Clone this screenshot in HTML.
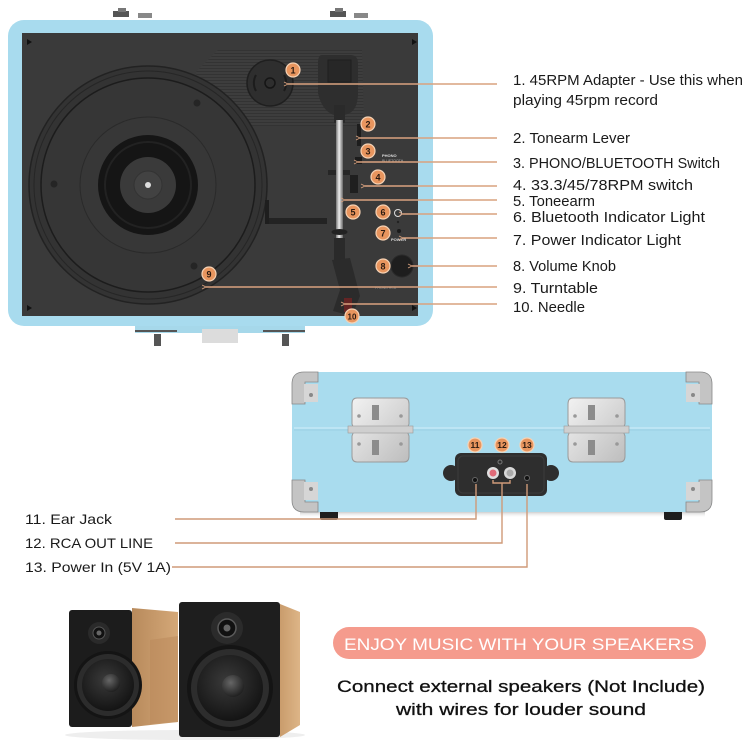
<!DOCTYPE html>
<html><head><meta charset="utf-8"><style>
html,body{margin:0;padding:0;background:#fff;}
svg{display:block;}
text{font-family:"Liberation Sans",sans-serif;}
</style></head><body>
<svg width="750" height="750" viewBox="0 0 750 750" xmlns="http://www.w3.org/2000/svg">
<defs>
  <marker id="ar" viewBox="0 0 10 10" refX="1" refY="5" markerWidth="5" markerHeight="5" orient="auto-start-reverse" markerUnits="userSpaceOnUse">
    <path d="M9,1 L1,5 L9,9" fill="none" stroke="#d9a27f" stroke-width="1.6"/>
  </marker>
  <pattern id="stripes" width="4" height="3" patternUnits="userSpaceOnUse">
    <rect width="4" height="3" fill="#3d3d3d"/>
    <rect y="2" width="4" height="1" fill="#333"/>
  </pattern>
  <linearGradient id="rod" x1="0" x2="1" y1="0" y2="0">
    <stop offset="0" stop-color="#777"/><stop offset="0.45" stop-color="#eee"/><stop offset="1" stop-color="#666"/>
  </linearGradient>
  <linearGradient id="wood" x1="0" x2="1" y1="0" y2="0">
    <stop offset="0" stop-color="#b88a5c"/><stop offset="1" stop-color="#d4a878"/>
  </linearGradient>
  <linearGradient id="wood2" x1="0" x2="1" y1="0" y2="0">
    <stop offset="0" stop-color="#c99c6c"/><stop offset="1" stop-color="#ddb587"/>
  </linearGradient>
  <radialGradient id="cone" cx="0.45" cy="0.4" r="0.6">
    <stop offset="0" stop-color="#3a3a3a"/><stop offset="1" stop-color="#141414"/>
  </radialGradient>
  <radialGradient id="cap" cx="0.4" cy="0.35" r="0.7">
    <stop offset="0" stop-color="#666"/><stop offset="1" stop-color="#1c1c1c"/>
  </radialGradient>
  <linearGradient id="silver" x1="0" x2="1" y1="0" y2="1">
    <stop offset="0" stop-color="#f2f2f2"/><stop offset="1" stop-color="#bdbdbd"/>
  </linearGradient>
  <linearGradient id="shadow" x1="0" x2="0" y1="0" y2="1">
    <stop offset="0" stop-color="#777"/><stop offset="1" stop-color="#fff" stop-opacity="0"/>
  </linearGradient>
</defs>
<rect width="750" height="750" fill="#fff"/>

<!-- ============ TOP VIEW ============ -->
<rect x="113" y="11" width="16" height="6" fill="#555"/>
<rect x="118" y="8" width="8" height="4" fill="#777"/>
<rect x="138" y="13" width="14" height="5" fill="#888"/>
<rect x="330" y="11" width="16" height="6" fill="#555"/>
<rect x="335" y="8" width="8" height="4" fill="#777"/>
<rect x="354" y="13" width="14" height="5" fill="#888"/>
<rect x="135" y="324" width="170" height="9" fill="#a6d8ea"/>
<rect x="135" y="330" width="42" height="2" fill="#555"/>
<rect x="263" y="330" width="42" height="2" fill="#555"/>
<rect x="202" y="329" width="36" height="14" fill="#dcdcdc"/>
<rect x="154" y="334" width="7" height="12" fill="#555"/>
<rect x="282" y="334" width="7" height="12" fill="#555"/>
<rect x="8" y="20" width="425" height="306" rx="16" fill="#a8dbee"/>
<rect x="22" y="33" width="396" height="283" fill="#3a3a3a"/>
<path d="M27,39 l5,3 l-5,3z M412,39 l5,3 l-5,3z M27,305 l5,3 l-5,3z M412,305 l5,3 l-5,3z" fill="#111"/>

<polygon points="196,72 218,50 362,50 364,126 206,126" fill="url(#stripes)"/>
<circle cx="148" cy="185" r="119" fill="#333" stroke="#222" stroke-width="1.5"/>
<circle cx="148" cy="185" r="114" fill="none" stroke="#262626" stroke-width="1"/>
<circle cx="148" cy="185" r="107" fill="#363636" stroke="#1c1c1c" stroke-width="1.5"/>
<circle cx="148" cy="185" r="68" fill="#373737" stroke="#2a2a2a" stroke-width="1"/>
<circle cx="197" cy="103" r="3.5" fill="#252525"/>
<circle cx="54" cy="184" r="3.5" fill="#252525"/>
<circle cx="194" cy="266" r="3.5" fill="#252525"/>
<circle cx="148" cy="185" r="50" fill="#151515"/>
<circle cx="148" cy="185" r="43" fill="none" stroke="#222" stroke-width="2"/>
<circle cx="148" cy="185" r="28" fill="#3a3a3a"/>
<circle cx="148" cy="185" r="14" fill="#424242" stroke="#333"/>
<circle cx="148" cy="185" r="3" fill="#ddd"/>
<rect x="265" y="218" width="62" height="6" fill="#232323"/>
<rect x="328" y="170" width="22" height="5" fill="#262626"/>
<rect x="265" y="200" width="4" height="24" fill="#1e1e1e"/>
<circle cx="270" cy="83" r="23" fill="#2e2e2e" stroke="#1f1f1f" stroke-width="1.5"/>
<path d="M256,75 A16,16 0 0 0 256,91 M284,75 A16,16 0 0 1 284,91" fill="none" stroke="#1c1c1c" stroke-width="2"/>
<circle cx="270" cy="83" r="5" fill="none" stroke="#151515" stroke-width="1.5"/>
<path d="M322,55 h28 q8,0 8,8 v30 q0,20 -14,22 h-10 q-12,-4 -16,-22 v-30 q0,-8 4,-8z" fill="#2e2e2e"/>
<rect x="328" y="60" width="23" height="22" fill="#272727" stroke="#1f1f1f"/>
<rect x="334" y="105" width="11" height="18" fill="#2a2a2a"/>
<rect x="336" y="120" width="7" height="120" fill="url(#rod)"/>
<ellipse cx="339.5" cy="232" rx="8" ry="3" fill="#222"/>
<rect x="334" y="238" width="11" height="24" fill="#2a2a2a"/>
<polygon points="332,260 350,258 360,296 352,316 333,311 340,290" fill="#2b2b2b"/>
<rect x="344" y="298" width="8" height="14" fill="#8a1f1f" opacity="0.6"/>
<rect x="357" y="124" width="4" height="22" fill="#1d1d1d"/>
<rect x="355" y="157" width="7" height="7" fill="#1c1c1c"/>
<text x="382" y="157" font-size="4" fill="#ddd" font-weight="bold">PHONO</text>
<text x="382" y="162" font-size="3.5" fill="#aaa">BLUETOOTH</text>
<rect x="350" y="175" width="8" height="18" fill="#1f1f1f"/>
<circle cx="398" cy="213" r="3.5" fill="none" stroke="#ddd" stroke-width="1"/>
<circle cx="398" cy="222" r="1.2" fill="#222"/>
<circle cx="399" cy="231" r="2" fill="#1a1a1a"/>
<text x="391" y="241" font-size="4" fill="#ddd" font-weight="bold">POWER</text>
<circle cx="402" cy="266" r="11" fill="#1e1e1e" stroke="#2a2a2a"/>
<text x="375" y="289" font-size="3.5" fill="#888">PHONO      RCA</text>

<g stroke="#d9a27f" stroke-width="1.5" fill="none" marker-start="url(#ar)">
  <line x1="288" y1="84" x2="497" y2="84"/>
  <line x1="360" y1="138" x2="497" y2="138"/>
  <line x1="358" y1="162" x2="497" y2="162"/>
  <line x1="365" y1="186" x2="497" y2="186"/>
  <line x1="345" y1="200" x2="497" y2="200"/>
  <line x1="403" y1="214" x2="497" y2="214"/>
  <line x1="403" y1="238" x2="497" y2="238"/>
  <line x1="412" y1="266" x2="497" y2="266"/>
  <line x1="206" y1="287" x2="497" y2="287"/>
  <line x1="345" y1="304" x2="497" y2="304"/>
</g>
<g font-size="9" font-weight="bold" text-anchor="middle" fill="#2b1a10">
  <g><circle cx="293" cy="70" r="7" fill="#e8955e" stroke="#f6d2b4" stroke-width="1.2"/><text x="293" y="73.3">1</text></g>
  <g><circle cx="368" cy="124" r="7" fill="#e8955e" stroke="#f6d2b4" stroke-width="1.2"/><text x="368" y="127.3">2</text></g>
  <g><circle cx="368" cy="151" r="7" fill="#e8955e" stroke="#f6d2b4" stroke-width="1.2"/><text x="368" y="154.3">3</text></g>
  <g><circle cx="378" cy="177" r="7" fill="#e8955e" stroke="#f6d2b4" stroke-width="1.2"/><text x="378" y="180.3">4</text></g>
  <g><circle cx="353" cy="212" r="7" fill="#e8955e" stroke="#f6d2b4" stroke-width="1.2"/><text x="353" y="215.3">5</text></g>
  <g><circle cx="383" cy="212" r="7" fill="#e8955e" stroke="#f6d2b4" stroke-width="1.2"/><text x="383" y="215.3">6</text></g>
  <g><circle cx="383" cy="233" r="7" fill="#e8955e" stroke="#f6d2b4" stroke-width="1.2"/><text x="383" y="236.3">7</text></g>
  <g><circle cx="383" cy="266" r="7" fill="#e8955e" stroke="#f6d2b4" stroke-width="1.2"/><text x="383" y="269.3">8</text></g>
  <g><circle cx="209" cy="274" r="7" fill="#e8955e" stroke="#f6d2b4" stroke-width="1.2"/><text x="209" y="277.3">9</text></g>
  <g><circle cx="352" cy="316" r="7" fill="#e8955e" stroke="#f6d2b4" stroke-width="1.2"/><text x="352" y="319.3" font-size="8">10</text></g>
</g>
<g font-size="15" fill="#1a1a1a">
  <text x="513" y="85" textLength="230" lengthAdjust="spacingAndGlyphs">1. 45RPM Adapter - Use this when</text>
  <text x="513" y="105" textLength="145" lengthAdjust="spacingAndGlyphs">playing 45rpm record</text>
  <text x="513" y="143" textLength="117" lengthAdjust="spacingAndGlyphs">2. Tonearm Lever</text>
  <text x="513" y="168" textLength="207" lengthAdjust="spacingAndGlyphs">3. PHONO/BLUETOOTH Switch</text>
  <text x="513" y="190" textLength="180" lengthAdjust="spacingAndGlyphs">4. 33.3/45/78RPM switch</text>
  <text x="513" y="206" textLength="82" lengthAdjust="spacingAndGlyphs">5. Toneearm</text>
  <text x="513" y="222" textLength="192" lengthAdjust="spacingAndGlyphs">6. Bluetooth Indicator Light</text>
  <text x="513" y="245" textLength="168" lengthAdjust="spacingAndGlyphs">7. Power Indicator Light</text>
  <text x="513" y="271" textLength="103" lengthAdjust="spacingAndGlyphs">8. Volume Knob</text>
  <text x="513" y="293" textLength="85" lengthAdjust="spacingAndGlyphs">9. Turntable</text>
  <text x="513" y="312" textLength="72" lengthAdjust="spacingAndGlyphs">10. Needle</text>
</g>

<!-- ============ BACK VIEW ============ -->
<rect x="300" y="508" width="405" height="10" fill="url(#shadow)"/>
<rect x="320" y="506" width="18" height="14" rx="2" fill="#1e1e1e"/>
<rect x="664" y="506" width="18" height="14" rx="2" fill="#1e1e1e"/>
<rect x="292" y="372" width="420" height="140" rx="10" fill="#a9dcee"/>
<line x1="294" y1="428" x2="710" y2="428" stroke="#c4e8f5" stroke-width="1.5"/>
<line x1="294" y1="430" x2="710" y2="430" stroke="#96cbe0" stroke-width="0.8"/>
<g fill="#c4c4c4" stroke="#888" stroke-width="0.8">
  <path d="M292,404 V384 Q292,372 304,372 H318 V382 H305 V404 Z"/>
  <path d="M712,404 V384 Q712,372 700,372 H686 V382 H699 V404 Z"/>
  <path d="M292,480 V500 Q292,512 304,512 H318 V502 H305 V480 Z"/>
  <path d="M712,480 V500 Q712,512 700,512 H686 V502 H699 V480 Z"/>
</g>
<g fill="#d6d6d6">
  <rect x="304" y="384" width="14" height="18"/><rect x="686" y="384" width="14" height="18"/>
  <rect x="304" y="482" width="14" height="18"/><rect x="686" y="482" width="14" height="18"/>
</g>
<g fill="#888"><circle cx="311" cy="395" r="2"/><circle cx="693" cy="395" r="2"/><circle cx="311" cy="489" r="2"/><circle cx="693" cy="489" r="2"/></g>
<g>
  <path d="M357,398 H404 Q409,398 409,404 V424 Q406,430 409,436 V456 Q409,462 404,462 H357 Q352,462 352,456 V436 Q355,430 352,424 V404 Q352,398 357,398 Z" fill="url(#silver)" stroke="#9a9a9a"/>
  <rect x="348" y="426" width="65" height="7" fill="#cfcfcf" stroke="#999" stroke-width="0.6"/>
  <rect x="372" y="405" width="7" height="15" fill="#8c8c8c"/><rect x="372" y="440" width="7" height="15" fill="#8c8c8c"/>
  <g fill="#999"><circle cx="359" cy="416" r="1.8"/><circle cx="401" cy="416" r="1.8"/><circle cx="359" cy="444" r="1.8"/><circle cx="401" cy="444" r="1.8"/></g>
  <path d="M573,398 H620 Q625,398 625,404 V424 Q622,430 625,436 V456 Q625,462 620,462 H573 Q568,462 568,456 V436 Q571,430 568,424 V404 Q568,398 573,398 Z" fill="url(#silver)" stroke="#9a9a9a"/>
  <rect x="564" y="426" width="65" height="7" fill="#cfcfcf" stroke="#999" stroke-width="0.6"/>
  <rect x="588" y="405" width="7" height="15" fill="#8c8c8c"/><rect x="588" y="440" width="7" height="15" fill="#8c8c8c"/>
  <g fill="#999"><circle cx="575" cy="416" r="1.8"/><circle cx="617" cy="416" r="1.8"/><circle cx="575" cy="444" r="1.8"/><circle cx="617" cy="444" r="1.8"/></g>
</g>
<circle cx="451" cy="473" r="8" fill="#2e2e2e"/>
<circle cx="551" cy="473" r="8" fill="#2e2e2e"/>
<rect x="455" y="453" width="92" height="43" rx="6" fill="#2e2e2e"/>
<rect x="458" y="456" width="86" height="37" rx="5" fill="none" stroke="#3c3c3c"/>
<circle cx="500" cy="462" r="2" fill="none" stroke="#777"/>
<circle cx="475" cy="480" r="2.5" fill="#111" stroke="#666"/>
<circle cx="493" cy="473" r="6" fill="#e0e0e0"/><circle cx="493" cy="473" r="3.5" fill="#e06b78"/>
<circle cx="510" cy="473" r="6" fill="#d8d8d8"/><circle cx="510" cy="473" r="3.5" fill="#aaa"/>
<circle cx="527" cy="478" r="2.5" fill="#111" stroke="#666"/>
<g stroke="#cf9a78" stroke-width="1.4" fill="none">
  <polyline points="175,519 476,519 476,484"/>
  <polyline points="175,543 502,543 502,483"/>
  <polyline points="493,480 493,483 510,483 510,480"/>
  <polyline points="172,567 527,567 527,484"/>
</g>
<g font-size="8.5" font-weight="bold" text-anchor="middle" fill="#2b1a10">
  <g><circle cx="475" cy="445" r="7" fill="#e8955e" stroke="#f6d2b4" stroke-width="1.2"/><text x="475" y="448">11</text></g>
  <g><circle cx="502" cy="445" r="7" fill="#e8955e" stroke="#f6d2b4" stroke-width="1.2"/><text x="502" y="448">12</text></g>
  <g><circle cx="527" cy="445" r="7" fill="#e8955e" stroke="#f6d2b4" stroke-width="1.2"/><text x="527" y="448">13</text></g>
</g>
<g font-size="14" fill="#1a1a1a">
  <text x="25" y="524" textLength="87" lengthAdjust="spacingAndGlyphs">11. Ear Jack</text>
  <text x="25" y="548" textLength="128" lengthAdjust="spacingAndGlyphs">12. RCA OUT LINE</text>
  <text x="25" y="572" textLength="146" lengthAdjust="spacingAndGlyphs">13. Power In (5V 1A)</text>
</g>

<!-- ============ SPEAKERS ============ -->
<ellipse cx="185" cy="735" rx="120" ry="5" fill="#eee"/>
<polygon points="132,608 178,612 178,722 132,727" fill="url(#wood)"/>
<polygon points="150,640 178,636 178,722 150,724" fill="#b9885a" opacity="0.5"/>
<rect x="69" y="610" width="63" height="117" rx="3" fill="#1c1c1c"/>
<circle cx="99" cy="633" r="11" fill="#2a2a2a"/>
<circle cx="99" cy="633" r="6" fill="#111" stroke="#555"/>
<circle cx="99" cy="633" r="2.5" fill="#666"/>
<circle cx="108" cy="685" r="34" fill="#141414"/>
<circle cx="108" cy="685" r="31" fill="#2c2c2c"/>
<circle cx="108" cy="685" r="26" fill="url(#cone)"/>
<circle cx="111" cy="683" r="9" fill="url(#cap)"/>
<polygon points="280,604 300,612 300,725 280,737" fill="url(#wood2)"/>
<rect x="179" y="602" width="101" height="135" rx="3" fill="#1e1e1e"/>
<circle cx="227" cy="628" r="16" fill="#2b2b2b"/>
<circle cx="227" cy="628" r="9" fill="#111" stroke="#5a5a5a" stroke-width="1.5"/>
<circle cx="227" cy="628" r="3.5" fill="#666"/>
<circle cx="230" cy="688" r="43" fill="#141414"/>
<circle cx="230" cy="688" r="39" fill="#2d2d2d"/>
<circle cx="230" cy="688" r="33" fill="url(#cone)"/>
<circle cx="233" cy="686" r="11" fill="url(#cap)"/>

<!-- ============ PILL & TEXT ============ -->
<rect x="333" y="627" width="373" height="32" rx="16" fill="#f59b8d"/>
<text x="519" y="650" font-size="17" fill="#fff" text-anchor="middle" textLength="350" lengthAdjust="spacingAndGlyphs">ENJOY MUSIC WITH YOUR SPEAKERS</text>
<text x="521" y="692" font-size="17" fill="#111" text-anchor="middle" textLength="368" lengthAdjust="spacingAndGlyphs" stroke="#111" stroke-width="0.3">Connect external speakers (Not Include)</text>
<text x="521" y="715" font-size="17" fill="#111" text-anchor="middle" textLength="250" lengthAdjust="spacingAndGlyphs" stroke="#111" stroke-width="0.3">with wires for louder sound</text>
</svg>
</body></html>
